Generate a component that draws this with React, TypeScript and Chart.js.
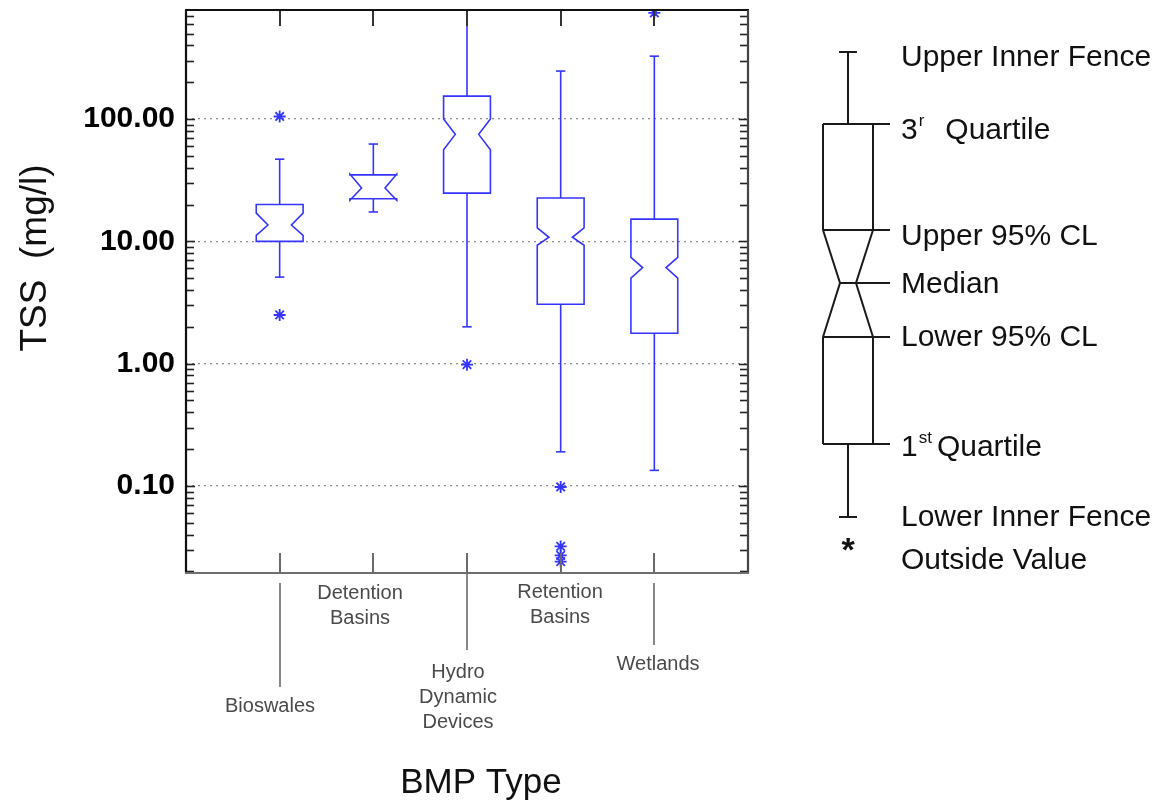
import React, { useEffect, useRef } from "react";
import { Chart, registerables } from "chart.js";

Chart.register(...registerables);

// ---------- data ----------
const categories = [
  "Bioswales",
  "Detention Basins",
  "Hydro Dynamic Devices",
  "Retention Basins",
  "Wetlands",
];
const lowerFence = [5.1, 17.4, 2.0, 0.19, 0.134];
const q1 = [10.0, 22.3, 24.8, 3.06, 1.77];
const lowerCL = [11.2, 21.7, 56, 9.3, 5.0];
const medians = [13.6, 27.3, 75, 10.8, 6.1];
const upperCL = [17.0, 35.5, 100, 12.9, 7.4];
const q3 = [20.0, 35.0, 154, 22.6, 15.2];
const upperFence = [47, 62.5, 1000, 247, 327];

const outlierCategory = [0, 0, 2, 3, 3, 3, 3, 4];
const outlierValues = [105, 2.5, 0.98, 0.098, 0.032, 0.027, 0.024, 740];

const yTickValues = [0.1, 1, 10, 100];
const yTickLabels = ["0.10", "1.00", "10.00", "100.00"];
const yMin = 0.0194;
const yMax = 780;

const yTitle = "TSS  (mg/l)";
const xTitle = "BMP Type";

const legendItems = [
  "Upper Inner Fence",
  "3|r|Quartile",
  "Upper 95% CL",
  "Median",
  "Lower 95% CL",
  "1|st|Quartile",
  "Lower Inner Fence",
  "Outside Value",
];

// ---------- styling / layout ----------
const BLUE = "#3535ff";
const BOX_HALF = 0.25;
const CAP_HALF = 0.05;
const FONT = "'Liberation Sans', Arial, sans-serif";

// offsets below plot bottom for category labels (staggered), and leader lines
const catLayout = [
  { dx: -10, top: 133, lead: [10, 114] },
  { dx: -13, top: 20, lead: null },
  { dx: -9, top: 99, lead: [0, 77] },
  { dx: -1, top: 19, lead: null },
  { dx: 4, top: 91, lead: [10, 72] },
];

const allYTicks: number[] = (() => {
  const out: number[] = [];
  [0.01, 0.1, 1, 10, 100].forEach((d) => {
    for (let k = 1; k <= 9; k++) {
      const v = k === 1 ? d : +(k * d).toPrecision(6);
      if (v >= yMin && v <= yMax) out.push(v);
    }
  });
  return out;
})();

const isMajor = (v: number) => yTickValues.some((t) => Math.abs(t - v) < t * 1e-6);

const boxPlugin = {
  id: "notchedBoxes",
  beforeDatasetsDraw(chart: any) {
    const { ctx, chartArea, scales } = chart;
    const x = scales.x;
    const y = scales.y;
    ctx.save();
    ctx.beginPath();
    ctx.rect(chartArea.left, chartArea.top, chartArea.right - chartArea.left, chartArea.bottom - chartArea.top);
    ctx.clip();
    ctx.strokeStyle = BLUE;
    ctx.lineWidth = 1.6;
    const py = (v: number) => y.getPixelForValue(v);
    const seg = (x1: number, y1: number, x2: number, y2: number) => {
      ctx.beginPath();
      ctx.moveTo(x1, y1);
      ctx.lineTo(x2, y2);
      ctx.stroke();
    };
    categories.forEach((_c, i) => {
      const c = i + 1;
      const cx = x.getPixelForValue(c);
      const L = x.getPixelForValue(c - BOX_HALF);
      const R = x.getPixelForValue(c + BOX_HALF);
      const capL = x.getPixelForValue(c - CAP_HALF);
      const capR = x.getPixelForValue(c + CAP_HALF);
      const inset = (R - L) * 0.25;
      // whiskers
      seg(cx, py(q3[i]), cx, py(upperFence[i]));
      seg(cx, py(q1[i]), cx, py(lowerFence[i]));
      seg(capL, py(upperFence[i]), capR, py(upperFence[i]));
      seg(capL, py(lowerFence[i]), capR, py(lowerFence[i]));
      // notched box
      ctx.beginPath();
      ctx.moveTo(L, py(q3[i]));
      ctx.lineTo(L, py(upperCL[i]));
      ctx.lineTo(L + inset, py(medians[i]));
      ctx.lineTo(L, py(lowerCL[i]));
      ctx.lineTo(L, py(q1[i]));
      ctx.lineTo(R, py(q1[i]));
      ctx.lineTo(R, py(lowerCL[i]));
      ctx.lineTo(R - inset, py(medians[i]));
      ctx.lineTo(R, py(upperCL[i]));
      ctx.lineTo(R, py(q3[i]));
      ctx.closePath();
      ctx.stroke();
    });
    ctx.restore();
  },
  afterDraw(chart: any) {
    const { ctx, chartArea, scales } = chart;
    const x = scales.x;
    const y = scales.y;
    const { left, right, top, bottom } = chartArea;
    ctx.save();
    const seg = (x1: number, y1: number, x2: number, y2: number) => {
      ctx.beginPath();
      ctx.moveTo(x1, y1);
      ctx.lineTo(x2, y2);
      ctx.stroke();
    };
    // inward y ticks (both sides)
    ctx.strokeStyle = "#222";
    ctx.lineWidth = 1.6;
    allYTicks.forEach((v) => {
      const yy = Math.round(y.getPixelForValue(v)) + 0.5;
      const len = isMajor(v) ? 9 : 8;
      seg(left, yy, left + len, yy);
      seg(right, yy, right - len, yy);
    });
    // category ticks on top and bottom
    categories.forEach((_c, i) => {
      const cx = Math.round(x.getPixelForValue(i + 1));
      ctx.strokeStyle = "#333";
      ctx.lineWidth = 2;
      seg(cx, top, cx, top + 16);
      ctx.strokeStyle = "#6a6a6a";
      seg(cx, bottom, cx, bottom - 20);
    });
    // frame
    ctx.lineWidth = 2.2;
    ctx.strokeStyle = "#111";
    seg(left - 1, top, right + 1, top);
    seg(left, top, left, bottom);
    ctx.strokeStyle = "#444";
    seg(right, top, right, bottom);
    ctx.strokeStyle = "#6e6e6e";
    seg(left - 1, bottom, right + 1, bottom);

    // category labels with leader lines
    ctx.font = `20px ${FONT}`;
    ctx.fillStyle = "#4a4a4a";
    ctx.textAlign = "center";
    ctx.textBaseline = "middle";
    categories.forEach((c, i) => {
      const cx = Math.round(x.getPixelForValue(i + 1));
      const lay = catLayout[i];
      if (lay.lead) {
        ctx.strokeStyle = "#6a6a6a";
        ctx.lineWidth = 1.6;
        seg(cx, bottom + lay.lead[0], cx, bottom + lay.lead[1]);
      }
      c.split(" ").forEach((w, k) => {
        ctx.fillText(w, cx + lay.dx, bottom + lay.top + k * 25);
      });
    });

    // axis titles
    ctx.fillStyle = "#111";
    ctx.font = `35px ${FONT}`;
    ctx.textAlign = "center";
    ctx.textBaseline = "middle";
    ctx.fillText(xTitle, (left + right) / 2 + 14, 783);
    ctx.save();
    ctx.translate(36, 258);
    ctx.rotate(-Math.PI / 2);
    ctx.font = `37px ${FONT}`;
    ctx.fillText(yTitle, 0, 0);
    ctx.restore();

    // ---- schematic legend ----
    const lx = right + 75; // box left
    const bw = 50;
    const wx = lx + bw / 2;
    const lvl = {
      upperFence: 52,
      q3: 124,
      upperCL: 230,
      median: 283,
      lowerCL: 337,
      q1: 444,
      lowerFence: 517,
    };
    ctx.strokeStyle = "#1a1a1a";
    ctx.lineWidth = 2;
    const lr = lx + bw;
    const tickEnd = lx + 67;
    seg(wx - 9, lvl.upperFence, wx + 9, lvl.upperFence);
    seg(wx, lvl.upperFence, wx, lvl.q3);
    seg(lx, lvl.q3, tickEnd, lvl.q3);
    seg(lx, lvl.q3, lx, lvl.upperCL);
    seg(lr, lvl.q3, lr, lvl.upperCL);
    seg(lx, lvl.upperCL, tickEnd, lvl.upperCL);
    const ins = 17;
    ctx.beginPath();
    ctx.moveTo(lx, lvl.upperCL);
    ctx.lineTo(lx + ins, lvl.median);
    ctx.lineTo(lx, lvl.lowerCL);
    ctx.moveTo(lr, lvl.upperCL);
    ctx.lineTo(lr - ins, lvl.median);
    ctx.lineTo(lr, lvl.lowerCL);
    ctx.stroke();
    seg(lx + ins, lvl.median, tickEnd, lvl.median);
    seg(lx, lvl.lowerCL, tickEnd, lvl.lowerCL);
    seg(lx, lvl.lowerCL, lx, lvl.q1);
    seg(lr, lvl.lowerCL, lr, lvl.q1);
    seg(lx, lvl.q1, tickEnd, lvl.q1);
    seg(wx, lvl.q1, wx, lvl.lowerFence);
    seg(wx - 9, lvl.lowerFence, wx + 9, lvl.lowerFence);
    ctx.fillStyle = "#111";
    ctx.font = `bold 34px ${FONT}`;
    ctx.textAlign = "center";
    ctx.textBaseline = "middle";
    ctx.fillText("*", wx, 552);

    const textYs = [58, 131, 237, 285, 338, 448, 518, 561];
    const tx = lx + 78;
    ctx.textAlign = "left";
    legendItems.forEach((t, i) => {
      const parts = t.split("|");
      ctx.font = `30px ${FONT}`;
      if (parts.length === 1) {
        ctx.fillText(t, tx, textYs[i]);
      } else {
        ctx.fillText(parts[0], tx, textYs[i]);
        const w0 = ctx.measureText(parts[0]).width;
        ctx.font = `17px ${FONT}`;
        ctx.fillText(parts[1], tx + w0 + 1, textYs[i] - 10);
        const w1 = ctx.measureText(parts[1]).width;
        ctx.font = `30px ${FONT}`;
        ctx.fillText(parts[2], tx + w0 + w1 + (parts[1] === "r" ? 22 : 6), textYs[i]);
      }
    });
    ctx.restore();
  },
};

export default function App() {
  const ref = useRef<HTMLCanvasElement | null>(null);
  useEffect(() => {
    if (!ref.current) return;
    const chart = new Chart(ref.current, {
      type: "scatter",
      data: {
        datasets: [
          {
            label: "Outside values",
            data: outlierValues.map((v, i) => ({ x: outlierCategory[i] + 1, y: v })),
            pointStyle: "star",
            radius: 6,
            borderColor: BLUE,
            backgroundColor: BLUE,
            borderWidth: 1.8,
          },
        ],
      },
      options: {
        animation: false,
        responsive: false,
        layout: { padding: { left: 0, right: 411, top: 10, bottom: 0 } },
        plugins: { legend: { display: false }, tooltip: { enabled: false } },
        scales: {
          x: {
            type: "linear",
            min: 0,
            max: 6,
            ticks: { display: false },
            grid: { display: false, drawTicks: false },
            border: { display: false },
            afterFit: (s: any) => {
              s.height = 232;
              s.paddingLeft = 0;
              s.paddingRight = 0;
              s.paddingTop = 0;
              s.paddingBottom = 0;
            },
          },
          y: {
            type: "logarithmic",
            min: yMin,
            max: yMax,
            afterBuildTicks: (s: any) => {
              s.ticks = allYTicks.map((v) => ({ value: v }));
            },
            ticks: {
              autoSkip: false,
              padding: 11,
              color: "#000",
              font: { family: FONT, size: 30, weight: "bold", lineHeight: 1 },
              callback: (v: any) => {
                const idx = yTickValues.findIndex((t) => Math.abs(t - v) < t * 1e-6);
                return idx >= 0 ? yTickLabels[idx] : "";
              },
            },
            grid: {
              drawTicks: false,
              lineWidth: 1.3,
              color: (c: any) => (c.tick && isMajor(c.tick.value) ? "#8a8a8a" : "rgba(0,0,0,0)"),
            },
            border: { display: false, dash: [2, 4] },
            afterFit: (s: any) => {
              s.width = 186;
              s.paddingLeft = 0;
              s.paddingRight = 0;
              s.paddingTop = 0;
              s.paddingBottom = 0;
            },
          },
        },
      },
      plugins: [boxPlugin],
    } as any);
    return () => chart.destroy();
  }, []);
  return (
    <div style={{ position: "fixed", left: 0, top: 0, width: 1159, height: 805, background: "#fff" }}>
      <canvas ref={ref} width={1159} height={805} style={{ display: "block" }} />
    </div>
  );
}
